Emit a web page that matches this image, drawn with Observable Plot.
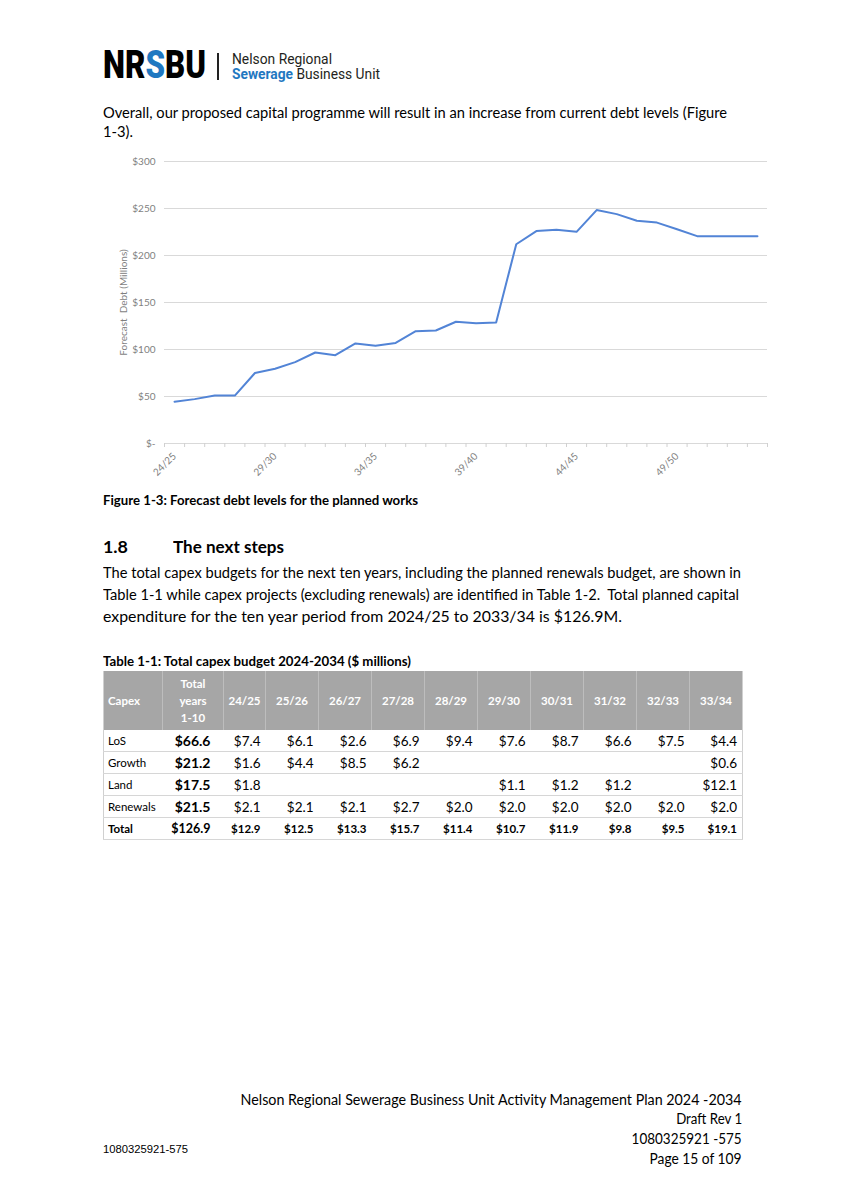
<!DOCTYPE html>
<html>
<head>
<meta charset="utf-8">
<script src="https://cdn.jsdelivr.net/npm/d3@7"></script>
<script src="https://cdn.jsdelivr.net/npm/@observablehq/plot@0.6"></script>
<style>
  html, body { margin: 0; padding: 0; background: #fff; }
  #page { position: relative; width: 843px; height: 1194px; overflow: hidden; font-family: Lato, "Open Sans", sans-serif; color: #000; }
  .t { position: absolute; white-space: pre; }
  #chart { position: absolute; left: 100px; top: 150px; }
  table { position: absolute; left: 103px; top: 671px; border-collapse: collapse; table-layout: fixed; font-family: Lato, sans-serif; }
  th { background: #a6a6a6; color: #fff; font-weight: bold; font-size: 11.5px; height: 59px; padding: 0; text-align: center; border-left: 1px solid #bdbdbd; line-height: 17px; }
  th:first-child { text-align: left; padding-left: 4px; border-left: 1px solid #d0d0d0; }
  td { height: 21px; padding: 0 5px 0 0; text-align: right; font-size: 13.5px; border-bottom: 1px solid #d6d6d6; }
  td.lab { text-align: left; padding-left: 4px; font-size: 11.5px; }
  td.tot { font-weight: bold; font-size: 14px; padding-right: 13px; }
  tr.total td { font-weight: bold; font-size: 11.5px; }
  tr.total td.tot { font-size: 12.5px; }
  tr td:first-child { border-left: 1px solid #d0d0d0; }
  tr td:last-child, tr th:last-child { border-right: 1px solid #d0d0d0; }
</style>
</head>
<body>
<div id="page"></div>
<script>
// ---------- data ----------
const years = ["24/25","25/26","26/27","27/28","28/29","29/30","30/31","31/32","32/33","33/34",
               "34/35","35/36","36/37","37/38","38/39","39/40","40/41","41/42","42/43","43/44",
               "44/45","45/46","46/47","47/48","48/49","49/50","50/51","51/52","52/53","53/54"];
const debt = [44.5, 47.2, 51, 51, 75, 79.5, 86.6, 96.8, 94, 106.4,
              104, 107, 119.5, 120.2, 129.5, 128, 128.7, 212, 226, 227.3,
              225.2, 248.3, 244, 237, 235, 228, 220.6, 220.6, 220.6, 220.6];
const yTicks = [0, 50, 100, 150, 200, 250, 300];
const labelEvery = 5;

const tableCols = ["24/25","25/26","26/27","27/28","28/29","29/30","30/31","31/32","32/33","33/34"];
const tableRowNames = ["LoS","Growth","Land","Renewals","Total"];
const tableTotals = [66.6, 21.2, 17.5, 21.5, 126.9];
const losVals = [7.4, 6.1, 2.6, 6.9, 9.4, 7.6, 8.7, 6.6, 7.5, 4.4];
const growthVals = [1.6, 4.4, 8.5, 6.2, null, null, null, null, null, 0.6];
const landVals = [1.8, null, null, null, null, 1.1, 1.2, 1.2, null, 12.1];
const renewalsVals = [2.1, 2.1, 2.1, 2.7, 2.0, 2.0, 2.0, 2.0, 2.0, 2.0];
const totalVals = [12.9, 12.5, 13.3, 15.7, 11.4, 10.7, 11.9, 9.8, 9.5, 19.1];

// ---------- helpers ----------
const page = document.getElementById("page");
function place(html, opts) {
  const el = document.createElement("div");
  el.className = "t";
  el.innerHTML = html;
  const size = opts.size || 15.5;
  el.style.fontSize = size + "px";
  el.style.lineHeight = (size * 1.2) + "px";
  el.style.top = (opts.y - size * 0.6) + "px";
  if (opts.weight) el.style.fontWeight = opts.weight;
  if (opts.color) el.style.color = opts.color;
  if (opts.font) el.style.fontFamily = opts.font;
  if (opts.right != null) { el.style.right = (843 - opts.right) + "px"; el.style.transformOrigin = "right center"; }
  else { el.style.left = opts.x + "px"; el.style.transformOrigin = "left center"; }
  page.appendChild(el);
  if (opts.w) {
    const w = el.getBoundingClientRect().width;
    el.style.transform = `scaleX(${opts.w / w})`;
  }
  return el;
}

// ---------- header logo ----------
place('NR<span style="color:#1f78c1">S</span>BU', {x: 103, y: 66, size: 38, weight: 900, font: "Roboto, sans-serif", w: 103});
const sep = document.createElement("div");
Object.assign(sep.style, {position: "absolute", left: "217px", top: "53px", width: "1.5px", height: "27px", background: "#222"});
page.appendChild(sep);
place('Nelson Regional', {x: 232, y: 59, size: 14, weight: 400, color: "#231f20", font: "Roboto, sans-serif", w: 100});
place('<span style="color:#1f78c1;font-weight:700">Sewerage</span> Business Unit', {x: 232, y: 74, size: 14, weight: 400, color: "#231f20", font: "Roboto, sans-serif", w: 148});

// ---------- body text ----------
place("Overall, our proposed capital programme will result in an increase from current debt levels (Figure", {x: 103, y: 112, w: 624});
place("1-3).", {x: 103, y: 131, w: 30});
place("Figure 1-3: Forecast debt levels for the planned works", {x: 103, y: 500, size: 12.5, weight: 700, w: 315});
place("1.8", {x: 103, y: 546, size: 17.5, weight: 700, w: 25});
place("The next steps", {x: 173, y: 546, size: 17.5, weight: 700, w: 111});
place("The total capex budgets for the next ten years, including the planned renewals budget, are shown in", {x: 103, y: 572, w: 638});
place("Table 1-1 while capex projects (excluding renewals) are identified in Table 1-2.  Total planned capital", {x: 103, y: 594, w: 636});
place("expenditure for the ten year period from 2024/25 to 2033/34 is $126.9M.", {x: 103, y: 616, w: 519});
place("Table 1-1: Total capex budget 2024-2034 ($ millions)", {x: 103, y: 661, size: 12.5, weight: 700, w: 308});

// ---------- footer ----------
place("Nelson Regional Sewerage Business Unit Activity Management Plan 2024 -2034", {right: 742, y: 1099, w: 501});
place("Draft Rev 1", {right: 742, y: 1118, w: 66});
place("1080325921 -575", {right: 742, y: 1138, w: 110});
place("Page 15 of 109", {right: 742, y: 1158, w: 92});
place("1080325921-575", {x: 103, y: 1150, size: 10, font: "'Liberation Sans', Arial, sans-serif", w: 85});

// ---------- chart ----------
const data = years.map((year, i) => ({i, year, debt: debt[i]}));
const chart = Plot.plot({
  width: 680, height: 325,
  marginLeft: 64, marginRight: 13, marginTop: 11, marginBottom: 32,
  style: {fontFamily: "Lato, sans-serif", fontSize: "9.5px", color: "#7f7f7f", background: "transparent", overflow: "visible"},
  x: {type: "linear", domain: [0, years.length], axis: null},
  y: {domain: [0, 300], axis: null},
  marks: [
    Plot.gridY(yTicks.filter(d => d > 0), {stroke: "#d9d9d9", strokeOpacity: 1, strokeWidth: 1.2}),
    Plot.axisY(yTicks, {tickSize: 0, tickPadding: 9, fill: "#7f7f7f",
      tickFormat: d => d === 0 ? "$-" : "$" + d,
      label: "Forecast\u00a0 Debt (Millions)", labelAnchor: "center", labelArrow: "none", labelOffset: 45, fontSize: 10}),
    Plot.ruleY([0], {stroke: "#d9d9d9", strokeWidth: 1.2}),
    Plot.axisX(d3.range(years.length + 1), {tickSize: 4, stroke: "#d0d0d0", tickFormat: () => "", label: null}),
    Plot.axisX(data.filter(d => d.i % labelEvery === 0).map(d => d.i + 0.5),
      {tickSize: 0, tickPadding: 11, tickRotate: -45, fill: "#7f7f7f", fontSize: 10, tickFormat: d => years[d - 0.5], label: null}),
    Plot.lineY(data, {x: d => d.i + 0.5, y: "debt", stroke: "#5284d6", strokeWidth: 2})
  ]
});
chart.id = "chart";
page.appendChild(chart);

// ---------- table ----------
const fmt = v => v == null ? "" : "$" + v.toFixed(1);
const rowsVals = [losVals, growthVals, landVals, renewalsVals, totalVals];
const colWidths = [59, 61, 42, 53, 53, 53, 53, 53, 53, 53, 53, 53];
const tbl = document.createElement("table");
const cg = document.createElement("colgroup");
colWidths.forEach(w => { const c = document.createElement("col"); c.style.width = w + "px"; cg.appendChild(c); });
tbl.appendChild(cg);
const hr = document.createElement("tr");
["Capex", "Total<br>years<br>1-10", ...tableCols].forEach(h => { const th = document.createElement("th"); th.innerHTML = h; hr.appendChild(th); });
tbl.appendChild(hr);
tableRowNames.forEach((name, r) => {
  const tr = document.createElement("tr");
  if (name === "Total") tr.className = "total";
  const c0 = document.createElement("td"); c0.className = "lab"; c0.textContent = name; tr.appendChild(c0);
  const c1 = document.createElement("td"); c1.className = "tot"; c1.textContent = fmt(tableTotals[r]); tr.appendChild(c1);
  rowsVals[r].forEach(v => { const td = document.createElement("td"); td.textContent = fmt(v); tr.appendChild(td); });
  tbl.appendChild(tr);
});
page.appendChild(tbl);
</script>
</body>
</html>
